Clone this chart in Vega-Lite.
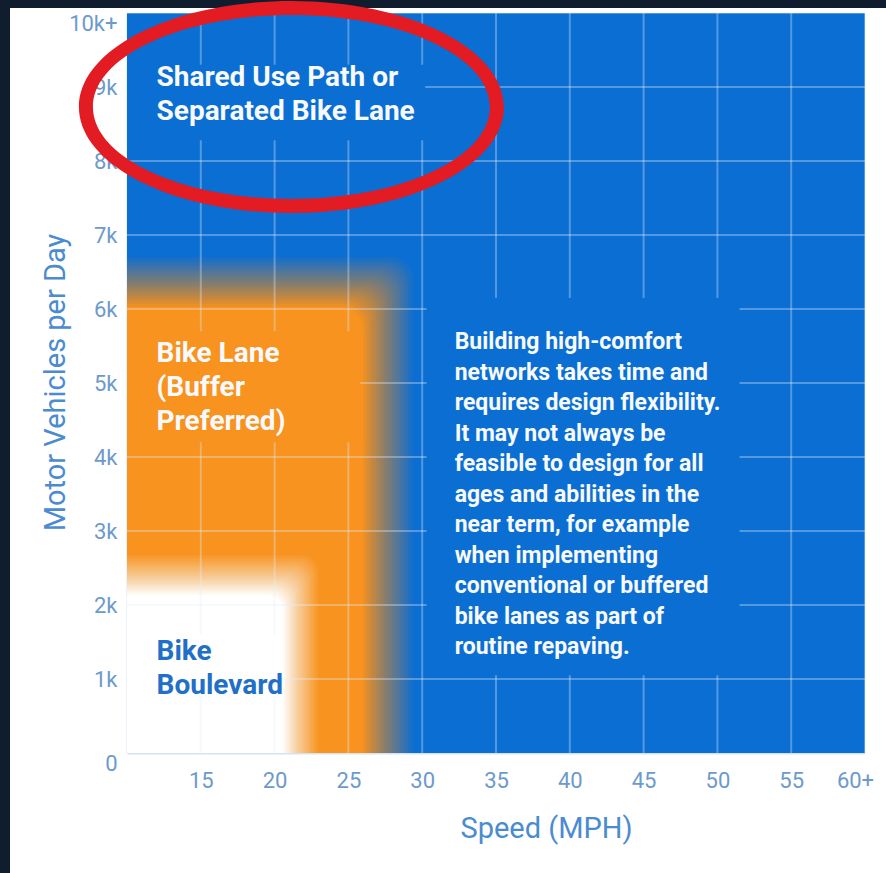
{
  "$schema": "https://vega.github.io/schema/vega-lite/v6.json",
  "padding": 0,
  "background": "#ffffff",
  "config": {"view": {"stroke": null}, "font": "Roboto"},
  "datasets": {
    "zones": [
      {"zone": "Shared Use Path or Separated Bike Lane", "step": 20, "speed": 10, "speed_end": 60, "volume": 0, "volume_end": 10000},
      {"zone": "Bike Lane", "step": 1, "speed": 10, "speed_end": 29.39, "volume": 0, "volume_end": 6706},
      {"zone": "Bike Lane", "step": 2, "speed": 10, "speed_end": 29.21, "volume": 0, "volume_end": 6670},
      {"zone": "Bike Lane", "step": 3, "speed": 10, "speed_end": 29.03, "volume": 0, "volume_end": 6635},
      {"zone": "Bike Lane", "step": 4, "speed": 10, "speed_end": 28.85, "volume": 0, "volume_end": 6599},
      {"zone": "Bike Lane", "step": 5, "speed": 10, "speed_end": 28.68, "volume": 0, "volume_end": 6564},
      {"zone": "Bike Lane", "step": 6, "speed": 10, "speed_end": 28.50, "volume": 0, "volume_end": 6528},
      {"zone": "Bike Lane", "step": 7, "speed": 10, "speed_end": 28.32, "volume": 0, "volume_end": 6493},
      {"zone": "Bike Lane", "step": 8, "speed": 10, "speed_end": 28.14, "volume": 0, "volume_end": 6457},
      {"zone": "Bike Lane", "step": 9, "speed": 10, "speed_end": 27.96, "volume": 0, "volume_end": 6421},
      {"zone": "Bike Lane", "step": 10, "speed": 10, "speed_end": 27.78, "volume": 0, "volume_end": 6386},
      {"zone": "Bike Lane", "step": 11, "speed": 10, "speed_end": 27.61, "volume": 0, "volume_end": 6350},
      {"zone": "Bike Lane", "step": 12, "speed": 10, "speed_end": 27.43, "volume": 0, "volume_end": 6315},
      {"zone": "Bike Lane", "step": 13, "speed": 10, "speed_end": 27.25, "volume": 0, "volume_end": 6279},
      {"zone": "Bike Lane", "step": 14, "speed": 10, "speed_end": 27.07, "volume": 0, "volume_end": 6243},
      {"zone": "Bike Lane", "step": 15, "speed": 10, "speed_end": 26.89, "volume": 0, "volume_end": 6208},
      {"zone": "Bike Lane", "step": 16, "speed": 10, "speed_end": 26.71, "volume": 0, "volume_end": 6172},
      {"zone": "Bike Lane", "step": 17, "speed": 10, "speed_end": 26.54, "volume": 0, "volume_end": 6137},
      {"zone": "Bike Lane", "step": 18, "speed": 10, "speed_end": 26.36, "volume": 0, "volume_end": 6101},
      {"zone": "Bike Lane", "step": 19, "speed": 10, "speed_end": 26.18, "volume": 0, "volume_end": 6066},
      {"zone": "Bike Lane", "step": 20, "speed": 10, "speed_end": 26.00, "volume": 0, "volume_end": 6030},
      {"zone": "Bike Boulevard", "step": 1, "speed": 10, "speed_end": 22.97, "volume": 0, "volume_end": 2680},
      {"zone": "Bike Boulevard", "step": 2, "speed": 10, "speed_end": 22.85, "volume": 0, "volume_end": 2652},
      {"zone": "Bike Boulevard", "step": 3, "speed": 10, "speed_end": 22.72, "volume": 0, "volume_end": 2623},
      {"zone": "Bike Boulevard", "step": 4, "speed": 10, "speed_end": 22.60, "volume": 0, "volume_end": 2595},
      {"zone": "Bike Boulevard", "step": 5, "speed": 10, "speed_end": 22.47, "volume": 0, "volume_end": 2566},
      {"zone": "Bike Boulevard", "step": 6, "speed": 10, "speed_end": 22.35, "volume": 0, "volume_end": 2538},
      {"zone": "Bike Boulevard", "step": 7, "speed": 10, "speed_end": 22.22, "volume": 0, "volume_end": 2510},
      {"zone": "Bike Boulevard", "step": 8, "speed": 10, "speed_end": 22.10, "volume": 0, "volume_end": 2481},
      {"zone": "Bike Boulevard", "step": 9, "speed": 10, "speed_end": 21.97, "volume": 0, "volume_end": 2453},
      {"zone": "Bike Boulevard", "step": 10, "speed": 10, "speed_end": 21.85, "volume": 0, "volume_end": 2424},
      {"zone": "Bike Boulevard", "step": 11, "speed": 10, "speed_end": 21.72, "volume": 0, "volume_end": 2396},
      {"zone": "Bike Boulevard", "step": 12, "speed": 10, "speed_end": 21.60, "volume": 0, "volume_end": 2367},
      {"zone": "Bike Boulevard", "step": 13, "speed": 10, "speed_end": 21.47, "volume": 0, "volume_end": 2339},
      {"zone": "Bike Boulevard", "step": 14, "speed": 10, "speed_end": 21.35, "volume": 0, "volume_end": 2311},
      {"zone": "Bike Boulevard", "step": 15, "speed": 10, "speed_end": 21.22, "volume": 0, "volume_end": 2282},
      {"zone": "Bike Boulevard", "step": 16, "speed": 10, "speed_end": 21.10, "volume": 0, "volume_end": 2254},
      {"zone": "Bike Boulevard", "step": 17, "speed": 10, "speed_end": 20.97, "volume": 0, "volume_end": 2225},
      {"zone": "Bike Boulevard", "step": 18, "speed": 10, "speed_end": 20.85, "volume": 0, "volume_end": 2197},
      {"zone": "Bike Boulevard", "step": 19, "speed": 10, "speed_end": 20.72, "volume": 0, "volume_end": 2168},
      {"zone": "Bike Boulevard", "step": 20, "speed": 10, "speed_end": 20.60, "volume": 0, "volume_end": 2140}
    ],
    "boxes": [
      {"zone": "Shared Use Path or Separated Bike Lane", "speed": 10, "speed_end": 30.2, "volume": 8280, "volume_end": 9300},
      {"zone": "Bike Lane", "speed": 10, "speed_end": 25.8, "volume": 4200, "volume_end": 5700},
      {"zone": "Bike Boulevard", "speed": 10, "speed_end": 20.5, "volume": 750, "volume_end": 1600},
      {"zone": "Shared Use Path or Separated Bike Lane", "speed": 30.3, "speed_end": 51.5, "volume": 1050, "volume_end": 6150}
    ],
    "grid": [
      {"axis": "speed", "speed": 15}, {"axis": "speed", "speed": 20}, {"axis": "speed", "speed": 25},
      {"axis": "speed", "speed": 30}, {"axis": "speed", "speed": 35}, {"axis": "speed", "speed": 40},
      {"axis": "speed", "speed": 45}, {"axis": "speed", "speed": 50}, {"axis": "speed", "speed": 55},
      {"axis": "speed", "speed": 60},
      {"axis": "volume", "volume": 1000}, {"axis": "volume", "volume": 2000}, {"axis": "volume", "volume": 3000},
      {"axis": "volume", "volume": 4000}, {"axis": "volume", "volume": 5000}, {"axis": "volume", "volume": 6000},
      {"axis": "volume", "volume": 7000}, {"axis": "volume", "volume": 8000}, {"axis": "volume", "volume": 9000},
      {"axis": "volume", "volume": 10000}
    ],
    "labels": [
      {"name": "shared", "label": "Shared Use Path or\nSeparated Bike Lane", "speed": 12, "volume": 9127},
      {"name": "bikelane", "label": "Bike Lane\n(Buffer\nPreferred)", "speed": 12, "volume": 5397},
      {"name": "boulevard", "label": "Bike\nBoulevard", "speed": 12, "volume": 1370},
      {"name": "note", "label": "Building high-comfort\nnetworks takes time and\nrequires design flexibility.\nIt may not always be\nfeasible to design for all\nages and abilities in the\nnear term, for example\nwhen implementing\nconventional or buffered\nbike lanes as part of\nroutine repaving.", "speed": 32.2, "volume": 5550}
    ],
    "highlight": [
      {"name": "Shared Use Path or Separated Bike Lane", "speed": 21.14, "volume": 8730}
    ]
  },
  "bounds": "flush",
  "spacing": 0,
  "hconcat": [
    {"width": 10, "height": 873, "data": {"values": []}, "mark": "rect", "view": {"fill": "#0f1d2e"}},
    {
      "bounds": "flush",
      "spacing": 5,
      "vconcat": [
        {"width": 876, "height": 8, "data": {"values": []}, "mark": "rect", "view": {"fill": "#0f1d2e"}},
        {
          "bounds": "flush",
          "spacing": 0,
          "hconcat": [
            {"width": 117, "height": 740, "data": {"values": []}, "mark": "rect"},
            {
              "width": 738,
              "height": 740,
              "layer": [
                {
                  "data": {"name": "zones"},
                  "transform": [{"filter": "datum.zone == 'Shared Use Path or Separated Bike Lane'"}],
                  "mark": {"type": "rect", "color": "#0a6ed2"},
                  "encoding": {
                    "x": {"field": "speed", "type": "quantitative", "scale": {"domain": [10, 60], "nice": false, "zero": false},
                      "axis": {
                        "title": "Speed (MPH)", "values": [15, 20, 25, 30, 35, 40, 45, 50, 55, 60],
                        "labelExpr": "datum.value == 60 ? '60+' : datum.label",
                        "grid": false, "ticks": false, "domain": true, "domainColor": "#d3e3f3", "domainWidth": 2,
                        "labelFont": "Roboto", "labelFontSize": 22, "labelColor": "#6c9acb", "labelPadding": 17,
                        "labelFlush": false, "labelOverlap": false,
                        "labelOffset": {"condition": {"test": "datum.value == 60", "value": -10}, "value": 0},
                        "titleFont": "Roboto", "titleFontSize": 29, "titleFontWeight": "normal", "titleColor": "#4b8bd0",
                        "titleX": 419, "titleY": 75, "titleBaseline": "middle"
                      }},
                    "x2": {"field": "speed_end"},
                    "y": {"field": "volume", "type": "quantitative", "scale": {"domain": [0, 10000], "nice": false, "zero": false},
                      "axis": {
                        "title": "Motor Vehicles per Day", "values": [0, 1000, 2000, 3000, 4000, 5000, 6000, 7000, 8000, 9000, 10000],
                        "labelExpr": "datum.value == 10000 ? '10k+' : datum.value == 0 ? '0' : (datum.value / 1000) + 'k'",
                        "labelBaseline": {"condition": {"test": "datum.value == 0 || datum.value == 10000", "value": "top"}, "value": "middle"},
                        "grid": false, "ticks": false, "domain": true, "domainColor": "#d3e3f3", "domainWidth": 2,
                        "labelFont": "Roboto", "labelFontSize": 22, "labelColor": "#6c9acb", "labelPadding": 10,
                        "labelFlush": false, "labelOverlap": false,
                        "titleFont": "Roboto", "titleFontSize": 29, "titleFontWeight": "normal", "titleColor": "#4b8bd0",
                        "titleAngle": -90, "titleX": -72, "titleY": 369, "titleBaseline": "middle"
                      }},
                    "y2": {"field": "volume_end"}
                  }
                },
                {
                  "data": {"name": "zones"},
                  "transform": [{"filter": "datum.zone == 'Bike Lane'"}],
                  "mark": {"type": "rect", "color": "#f7931e", "cornerRadiusTopRight": 22},
                  "encoding": {
                    "x": {"field": "speed", "type": "quantitative", "scale": {"domain": [10, 60]}},
                    "x2": {"field": "speed_end"},
                    "y": {"field": "volume", "type": "quantitative", "scale": {"domain": [0, 10000]}},
                    "y2": {"field": "volume_end"},
                    "opacity": {"field": "step", "type": "quantitative", "legend": null,
                      "scale": {"type": "threshold", "domain": [1.5, 2.5, 3.5, 4.5, 5.5, 6.5, 7.5, 8.5, 9.5, 10.5, 11.5, 12.5, 13.5, 14.5, 15.5, 16.5, 17.5, 18.5, 19.5],
                        "range": [0.05, 0.0526, 0.0556, 0.0588, 0.0625, 0.0667, 0.0714, 0.0769, 0.0833, 0.0909, 0.1, 0.1111, 0.125, 0.1429, 0.1667, 0.2, 0.25, 0.3333, 0.5, 1]}}
                  }
                },
                {
                  "data": {"name": "zones"},
                  "transform": [{"filter": "datum.zone == 'Bike Boulevard'"}],
                  "mark": {"type": "rect", "color": "#ffffff", "cornerRadiusTopRight": 16},
                  "encoding": {
                    "x": {"field": "speed", "type": "quantitative", "scale": {"domain": [10, 60]}},
                    "x2": {"field": "speed_end"},
                    "y": {"field": "volume", "type": "quantitative", "scale": {"domain": [0, 10000]}},
                    "y2": {"field": "volume_end"},
                    "opacity": {"field": "step", "type": "quantitative", "legend": null,
                      "scale": {"type": "threshold", "domain": [1.5, 2.5, 3.5, 4.5, 5.5, 6.5, 7.5, 8.5, 9.5, 10.5, 11.5, 12.5, 13.5, 14.5, 15.5, 16.5, 17.5, 18.5, 19.5],
                        "range": [0.05, 0.0526, 0.0556, 0.0588, 0.0625, 0.0667, 0.0714, 0.0769, 0.0833, 0.0909, 0.1, 0.1111, 0.125, 0.1429, 0.1667, 0.2, 0.25, 0.3333, 0.5, 1]}}
                  }
                },
                {
                  "data": {"name": "grid"},
                  "transform": [{"filter": "datum.axis == 'speed'"}],
                  "mark": {"type": "rule", "color": "#e4eefa", "strokeWidth": 2, "opacity": 0.34},
                  "encoding": {
                    "x": {"field": "speed", "type": "quantitative", "scale": {"domain": [10, 60]}}
                  }
                },
                {
                  "data": {"name": "grid"},
                  "transform": [{"filter": "datum.axis == 'volume'"}],
                  "mark": {"type": "rule", "color": "#e4eefa", "strokeWidth": 2, "opacity": 0.34},
                  "encoding": {
                    "y": {"field": "volume", "type": "quantitative", "scale": {"domain": [0, 10000]}}
                  }
                },
                {
                  "data": {"name": "boxes"},
                  "mark": {"type": "rect"},
                  "encoding": {
                    "x": {"field": "speed", "type": "quantitative", "scale": {"domain": [10, 60]}},
                    "x2": {"field": "speed_end"},
                    "y": {"field": "volume", "type": "quantitative", "scale": {"domain": [0, 10000]}},
                    "y2": {"field": "volume_end"},
                    "color": {"field": "zone", "type": "nominal", "legend": null,
                      "scale": {"domain": ["Shared Use Path or Separated Bike Lane", "Bike Lane", "Bike Boulevard"], "range": ["#0a6ed2", "#f7931e", "#ffffff"]}}
                  }
                },
                {
                  "data": {"name": "labels"},
                  "transform": [{"filter": "datum.name == 'shared' || datum.name == 'bikelane'"}],
                  "mark": {"type": "text", "align": "left", "baseline": "middle", "font": "Roboto", "fontWeight": "bold", "fontSize": 28, "lineHeight": 34, "lineBreak": "\n", "color": "#f7f9fc"},
                  "encoding": {
                    "x": {"field": "speed", "type": "quantitative", "scale": {"domain": [10, 60]}},
                    "y": {"field": "volume", "type": "quantitative", "scale": {"domain": [0, 10000]}},
                    "text": {"field": "label"}
                  }
                },
                {
                  "data": {"name": "labels"},
                  "transform": [{"filter": "datum.name == 'boulevard'"}],
                  "mark": {"type": "text", "align": "left", "baseline": "middle", "font": "Roboto", "fontWeight": "bold", "fontSize": 28, "lineHeight": 34, "lineBreak": "\n", "color": "#1f70c6"},
                  "encoding": {
                    "x": {"field": "speed", "type": "quantitative", "scale": {"domain": [10, 60]}},
                    "y": {"field": "volume", "type": "quantitative", "scale": {"domain": [0, 10000]}},
                    "text": {"field": "label"}
                  }
                },
                {
                  "data": {"name": "labels"},
                  "transform": [{"filter": "datum.name == 'note'"}],
                  "mark": {"type": "text", "align": "left", "baseline": "middle", "font": "Roboto", "fontWeight": "bold", "fontSize": 23, "lineHeight": 30.5, "lineBreak": "\n", "color": "#f7f9fc"},
                  "encoding": {
                    "x": {"field": "speed", "type": "quantitative", "scale": {"domain": [10, 60]}},
                    "y": {"field": "volume", "type": "quantitative", "scale": {"domain": [0, 10000]}},
                    "text": {"field": "label"}
                  }
                },
                {
                  "data": {"name": "highlight"},
                  "mark": {"type": "point", "shape": "M -1 0 C -1 -0.2755 -0.5523 -0.4988 0 -0.4988 C 0.5523 -0.4988 1 -0.2755 1 0 C 1 0.2755 0.5523 0.4988 0 0.4988 C -0.5523 0.4988 -1 0.2755 -1 0 Z M -0.9341 0 C -0.9341 0.2391 -0.5159 0.4329 0 0.4329 C 0.5159 0.4329 0.9341 0.2391 0.9341 0 C 0.9341 -0.2391 0.5159 -0.4329 0 -0.4329 C -0.5159 -0.4329 -0.9341 -0.2391 -0.9341 0 Z",
                    "size": 180625, "filled": true, "color": "#e31b23", "strokeWidth": 0, "opacity": 1},
                  "encoding": {
                    "x": {"field": "speed", "type": "quantitative", "scale": {"domain": [10, 60]}},
                    "y": {"field": "volume", "type": "quantitative", "scale": {"domain": [0, 10000]}}
                  }
                }
              ]
            }
          ]
        }
      ]
    }
  ]
}
